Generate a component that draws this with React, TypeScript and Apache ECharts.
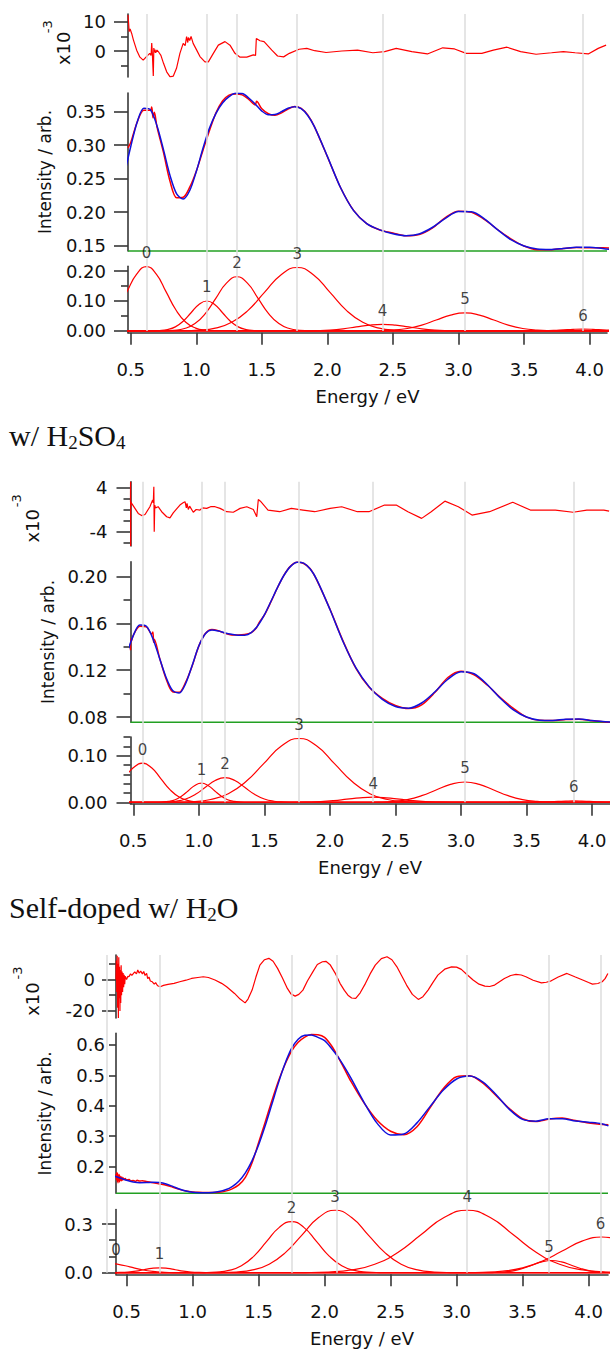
import React, { useEffect, useRef } from 'react';
import * as echarts from 'echarts';

// ---------- shared ----------
const X_TICKS = [0.5, 1.0, 1.5, 2.0, 2.5, 3.0, 3.5, 4.0];

// ---------- panel 1 (no title) ----------
const P1_BASE = 0.142;
const P1_CENTERS = [0.62, 1.08, 1.31, 1.77, 2.42, 3.05, 3.95];
const P1_LABEL_X = [0.62, 1.08, 1.31, 1.77, 2.42, 3.05, 3.95];
const P1_LABEL_Y = [0.215, 0.1, 0.181, 0.212, 0.022, 0.06, 0.006];
const P1_FIT = [[0.45,0.255],[0.5,0.298],[0.55,0.335],[0.6,0.355],[0.65,0.353],[0.7,0.329],[0.75,0.293],[0.8,0.2545],[0.85,0.2274],[0.9,0.2196],[0.95,0.2323],[1.0,0.2606],[1.05,0.2947],[1.1,0.3251],[1.15,0.3476],[1.2,0.363],[1.25,0.3725],[1.3,0.3775],[1.35,0.3772],[1.4,0.3705],[1.45,0.3612],[1.5,0.3509],[1.55,0.3454],[1.6,0.3457],[1.65,0.35],[1.7,0.3552],[1.75,0.3575],[1.8,0.3544],[1.85,0.3444],[1.9,0.328],[2.0,0.2833],[2.1,0.2368],[2.2,0.2023],[2.3,0.183],[2.4,0.1736],[2.5,0.1679],[2.6,0.1649],[2.7,0.1674],[2.8,0.1771],[2.9,0.1908],[3.0,0.2008],[3.1,0.2005],[3.2,0.1896],[3.3,0.1735],[3.4,0.1589],[3.5,0.1495],[3.6,0.145],[3.7,0.1443],[3.8,0.1458],[3.9,0.1477],[4.0,0.1477],[4.1,0.1456],[4.15,0.1445]];
const P1_DATA = [[0.479,0.296],[0.5,0.304],[0.55,0.335],[0.6,0.352],[0.65,0.352],[0.66,0.357],[0.67,0.341],[0.68,0.349],[0.7,0.3275],[0.75,0.2888],[0.8,0.2457],[0.85,0.2215],[0.9,0.2222],[0.95,0.2373],[1.0,0.2611],[1.05,0.2917],[1.1,0.3216],[1.15,0.3482],[1.2,0.366],[1.25,0.3748],[1.3,0.3764],[1.35,0.3751],[1.4,0.3684],[1.45,0.3602],[1.46,0.3655],[1.5,0.3543],[1.55,0.3469],[1.6,0.3445],[1.65,0.3482],[1.7,0.354],[1.75,0.3577],[1.8,0.3551],[1.85,0.3452],[1.9,0.3281],[2.0,0.2828],[2.1,0.2368],[2.2,0.2026],[2.3,0.1828],[2.4,0.1734],[2.5,0.1688],[2.6,0.1647],[2.7,0.1665],[2.8,0.1761],[2.9,0.1919],[3.0,0.2015],[3.1,0.1997],[3.2,0.1888],[3.3,0.1737],[3.4,0.1602],[3.5,0.1495],[3.6,0.1439],[3.7,0.1437],[3.8,0.1456],[3.9,0.1471],[4.0,0.1467],[4.1,0.1468],[4.15,0.1465]];
const P1_RES = [[0.479,12.3],[0.482,10.6],[0.488,6.6],[0.495,7.5],[0.507,6.0],[0.52,3.8],[0.545,0.3],[0.57,-2.1],[0.595,-3.1],[0.62,-1.9],[0.645,-0.8],[0.655,-1.5],[0.66,2.7],[0.665,-1.0],[0.672,-8.5],[0.676,1.0],[0.68,-0.5],[0.685,0.5],[0.69,-0.6],[0.7,0.3],[0.715,-0.5],[0.73,-1.5],[0.75,-4.2],[0.774,-7.1],[0.8,-8.8],[0.824,-8.6],[0.849,-5.9],[0.875,-0.8],[0.9,2.6],[0.915,1.8],[0.926,4.9],[0.935,2.9],[0.94,4.6],[0.95,3.6],[0.96,5.0],[0.976,2.6],[1.003,0.3],[1.028,-1.9],[1.066,-3.7],[1.092,-3.7],[1.13,-0.8],[1.168,2.0],[1.219,3.2],[1.257,2.0],[1.295,-0.8],[1.334,-2.1],[1.385,-2.1],[1.435,-1.3],[1.452,-1.5],[1.458,4.3],[1.486,3.5],[1.517,3.2],[1.576,0.3],[1.62,-1.7],[1.666,-2.0],[1.71,-0.8],[1.784,0.6],[1.843,0.9],[1.903,0.1],[1.99,-0.5],[2.11,0],[2.23,0.3],[2.347,-0.6],[2.437,-0.2],[2.525,0.9],[2.644,-0.2],[2.763,-1.0],[2.88,1.1],[2.97,0.7],[3.059,-0.8],[3.178,-0.8],[3.266,0.3],[3.37,1.3],[3.474,-0.2],[3.592,-1.1],[3.71,-0.6],[3.8,-0.2],[3.89,-0.6],[3.99,-1.0],[4.066,0.9],[4.126,2.0]];
const P1_C0 = [[0.395,0.0698],[0.47,0.1304],[0.545,0.1897],[0.62,0.215],[0.695,0.1897],[0.77,0.1304],[0.845,0.0698],[0.92,0.0291],[0.995,0.0094],[1.07,0.0024],[1.145,0.0005],[1.3,0],[4.2,0]];
const P1_C1 = [[0.4,0],[0.66,0.0002],[0.72,0.0011],[0.78,0.0044],[0.84,0.0135],[0.9,0.0325],[0.96,0.0607],[1.02,0.0883],[1.08,0.1],[1.14,0.0883],[1.2,0.0607],[1.26,0.0325],[1.32,0.0135],[1.38,0.0044],[1.44,0.0011],[1.5,0.0002],[4.2,0]];
const P1_C2 = [[0.4,0],[0.75,0.0004],[0.83,0.002],[0.91,0.0079],[0.99,0.0245],[1.07,0.0588],[1.15,0.1098],[1.23,0.1597],[1.31,0.181],[1.39,0.1597],[1.47,0.1098],[1.55,0.0588],[1.63,0.0245],[1.71,0.0079],[1.79,0.002],[1.87,0.0004],[4.2,0]];
const P1_C3 = [[0.4,0],[0.895,0.0005],[1.02,0.0024],[1.145,0.0093],[1.27,0.0287],[1.395,0.0688],[1.52,0.1286],[1.645,0.1871],[1.77,0.212],[1.895,0.1871],[2.02,0.1286],[2.145,0.0688],[2.27,0.0287],[2.395,0.0093],[2.52,0.0024],[2.645,0.0005],[4.2,0]];
const P1_C4 = [[0.4,0],[1.82,0.0002],[1.92,0.001],[2.02,0.003],[2.12,0.0071],[2.22,0.0133],[2.32,0.0194],[2.42,0.022],[2.52,0.0194],[2.62,0.0133],[2.72,0.0071],[2.82,0.003],[2.92,0.001],[3.02,0.0002],[4.2,0]];
const P1_C5 = [[0.4,0],[2.28,0.0001],[2.39,0.0007],[2.5,0.0026],[2.61,0.0081],[2.72,0.0195],[2.83,0.0364],[2.94,0.053],[3.05,0.06],[3.16,0.053],[3.27,0.0364],[3.38,0.0195],[3.49,0.0081],[3.6,0.0026],[3.71,0.0007],[3.82,0.0001],[4.2,0]];
const P1_C6 = [[0.4,0],[3.575,0.0003],[3.65,0.0008],[3.725,0.0019],[3.8,0.0036],[3.875,0.0053],[3.95,0.006],[4.025,0.0053],[4.1,0.0036],[4.175,0.0019],[4.25,0.0008]];

// ---------- panel 2 : w/ H2SO4 ----------
const P2_BASE = 0.0755;
const P2_CENTERS = [0.57, 1.02, 1.2, 1.765, 2.33, 3.03, 3.86];
const P2_LABEL_X = [0.57, 1.02, 1.2, 1.765, 2.33, 3.03, 3.86];
const P2_LABEL_Y = [0.084, 0.041, 0.053, 0.137, 0.011, 0.0436, 0.003];
const P2_FIT = [[0.45,0.1337],[0.5,0.1496],[0.55,0.1586],[0.6,0.1576],[0.65,0.147],[0.7,0.1305],[0.75,0.114],[0.8,0.1026],[0.85,0.1005],[0.9,0.1087],[0.95,0.1243],[1.0,0.1407],[1.05,0.1512],[1.1,0.1544],[1.15,0.1535],[1.2,0.1519],[1.25,0.1507],[1.3,0.1499],[1.35,0.15],[1.4,0.1522],[1.45,0.1581],[1.5,0.1673],[1.55,0.1788],[1.6,0.1907],[1.65,0.2012],[1.7,0.2088],[1.75,0.2124],[1.8,0.2116],[1.85,0.2065],[1.9,0.1975],[2.0,0.1721],[2.1,0.1446],[2.2,0.1218],[2.3,0.1058],[2.4,0.0951],[2.5,0.089],[2.6,0.0876],[2.7,0.092],[2.8,0.1014],[2.9,0.1123],[3.0,0.1187],[3.1,0.117],[3.2,0.1078],[3.3,0.096],[3.4,0.0861],[3.5,0.08],[3.6,0.0773],[3.7,0.0771],[3.8,0.0782],[3.9,0.0783],[4.0,0.077],[4.1,0.0759],[4.15,0.0757]];
const P2_DATA = [[0.479,0.137],[0.481,0.147],[0.485,0.1445],[0.5,0.1498],[0.55,0.1576],[0.6,0.1571],[0.64,0.151],[0.65,0.1527],[0.655,0.144],[0.66,0.1465],[0.7,0.1308],[0.75,0.1128],[0.8,0.1016],[0.85,0.1012],[0.9,0.1099],[0.95,0.1239],[1.0,0.1406],[1.05,0.1514],[1.1,0.1549],[1.15,0.1537],[1.2,0.1516],[1.25,0.1502],[1.3,0.1501],[1.35,0.1505],[1.4,0.1522],[1.44,0.1564],[1.46,0.1608],[1.5,0.1671],[1.55,0.1784],[1.6,0.1905],[1.65,0.2013],[1.7,0.209],[1.75,0.2123],[1.8,0.2113],[1.85,0.2067],[1.9,0.1971],[2.0,0.1723],[2.1,0.1451],[2.2,0.1214],[2.3,0.1054],[2.4,0.0959],[2.5,0.0898],[2.6,0.0872],[2.7,0.0904],[2.8,0.1009],[2.9,0.1138],[3.0,0.1192],[3.1,0.116],[3.2,0.1074],[3.3,0.0967],[3.4,0.0874],[3.5,0.0799],[3.6,0.0772],[3.7,0.077],[3.8,0.0778],[3.9,0.0782],[4.0,0.0769],[4.1,0.0758],[4.15,0.0754]];
const P2_RES = [[0.479,1.4],[0.4795,5.0],[0.48,-6.6],[0.4805,1.4],[0.488,1.1],[0.513,0.2],[0.538,-0.7],[0.564,-1.1],[0.59,-0.9],[0.627,0.5],[0.648,1.7],[0.653,1.2],[0.657,4.1],[0.66,-4.0],[0.664,0.8],[0.67,0.3],[0.69,0.5],[0.717,-0.4],[0.755,-1.3],[0.78,-1.5],[0.805,-0.6],[0.856,0.8],[0.88,1.2],[0.895,1.4],[0.905,0.3],[0.91,1.1],[0.92,0.0],[0.93,0.6],[0.958,-0.5],[0.98,0.0],[1.009,-0.1],[1.03,0.3],[1.06,0.2],[1.09,0.5],[1.124,0.5],[1.162,0.2],[1.213,-0.4],[1.263,-0.5],[1.315,0.2],[1.366,0.5],[1.416,0],[1.442,-1.3],[1.454,1.8],[1.47,1.5],[1.528,-0.1],[1.617,-0.4],[1.706,0.2],[1.795,-0.1],[1.884,-0.4],[2.002,0.2],[2.09,0.5],[2.21,-0.4],[2.298,-0.4],[2.417,0.8],[2.506,0.8],[2.595,-0.4],[2.7,-1.6],[2.773,-0.4],[2.877,1.5],[2.98,0.5],[3.084,-1.0],[3.218,-0.4],[3.395,1.3],[3.529,-0.1],[3.72,-0.1],[3.855,-0.5],[3.96,-0.1],[4.09,-0.1],[4.13,-0.3]];
const P2_C0 = [[0.36,0.0273],[0.43,0.0509],[0.5,0.0741],[0.57,0.084],[0.64,0.0741],[0.71,0.0509],[0.78,0.0273],[0.85,0.0114],[0.92,0.0037],[0.99,0.0009],[1.06,0.0002],[1.2,0],[4.2,0]];
const P2_C1 = [[0.4,0],[0.67,0.0001],[0.72,0.0005],[0.77,0.0018],[0.82,0.0055],[0.87,0.0133],[0.92,0.0249],[0.97,0.0362],[1.02,0.041],[1.07,0.0362],[1.12,0.0249],[1.17,0.0133],[1.22,0.0055],[1.27,0.0018],[1.32,0.0005],[1.37,0.0001],[4.2,0]];
const P2_C2 = [[0.4,0],[0.675,0.0001],[0.75,0.0006],[0.825,0.0023],[0.9,0.0072],[0.975,0.0172],[1.05,0.0321],[1.125,0.0468],[1.2,0.053],[1.275,0.0468],[1.35,0.0321],[1.425,0.0172],[1.5,0.0072],[1.575,0.0023],[1.65,0.0006],[1.725,0.0001],[4.2,0]];
const P2_C3 = [[0.4,0],[0.82,0.0003],[0.955,0.0015],[1.09,0.006],[1.225,0.0185],[1.36,0.0445],[1.495,0.0831],[1.63,0.1209],[1.765,0.137],[1.9,0.1209],[2.035,0.0831],[2.17,0.0445],[2.305,0.0185],[2.44,0.006],[2.575,0.0015],[2.71,0.0003],[4.2,0]];
const P2_C4 = [[0.4,0],[1.73,0.0001],[1.83,0.0005],[1.93,0.0015],[2.03,0.0036],[2.13,0.0067],[2.23,0.0097],[2.33,0.011],[2.43,0.0097],[2.53,0.0067],[2.63,0.0036],[2.73,0.0015],[2.83,0.0005],[2.93,0.0001],[4.2,0]];
const P2_C5 = [[0.4,0],[2.26,0.0001],[2.37,0.0005],[2.48,0.0019],[2.59,0.0059],[2.7,0.0142],[2.81,0.0264],[2.92,0.0385],[3.03,0.0436],[3.14,0.0385],[3.25,0.0264],[3.36,0.0142],[3.47,0.0059],[3.58,0.0019],[3.69,0.0005],[3.8,0.0001],[4.2,0]];
const P2_C6 = [[0.4,0],[3.56,0.0001],[3.62,0.0004],[3.68,0.001],[3.74,0.0018],[3.8,0.0026],[3.86,0.003],[3.92,0.0026],[3.98,0.0018],[4.04,0.001],[4.1,0.0004],[4.16,0.0001],[4.2,0]];

// ---------- panel 3 : Self-doped w/ H2O ----------
const P3_BASE = 0.1125;
const P3_CENTERS = [0.35, 0.75, 1.75, 2.09, 3.08, 3.7, 4.09];
const P3_LABEL_X = [0.42, 0.75, 1.75, 2.08, 3.08, 3.7, 4.09];
const P3_LABEL_Y = [0.054, 0.03, 0.315, 0.385, 0.385, 0.075, 0.22];
const P3_FIT = [[0.4,0.1703],[0.45,0.1629],[0.5,0.1553],[0.55,0.1498],[0.6,0.1473],[0.65,0.1478],[0.7,0.1488],[0.75,0.1477],[0.8,0.1429],[0.85,0.1352],[0.9,0.1269],[0.95,0.1203],[1.0,0.116],[1.05,0.1143],[1.1,0.114],[1.15,0.1151],[1.2,0.1181],[1.25,0.124],[1.3,0.1346],[1.35,0.1522],[1.4,0.1797],[1.45,0.2191],[1.5,0.2711],[1.55,0.3342],[1.6,0.4041],[1.65,0.4746],[1.7,0.5381],[1.75,0.5886],[1.8,0.619],[1.85,0.632],[1.9,0.633],[1.95,0.625],[2.0,0.6141],[2.05,0.5903],[2.1,0.5616],[2.15,0.5283],[2.2,0.491],[2.3,0.4108],[2.4,0.3415],[2.5,0.304],[2.6,0.3071],[2.7,0.3439],[2.8,0.3982],[2.9,0.4517],[3.0,0.4882],[3.1,0.4977],[3.2,0.4781],[3.3,0.4363],[3.4,0.3882],[3.5,0.3553],[3.6,0.3496],[3.7,0.3573],[3.8,0.3573],[3.9,0.3499],[4.0,0.3459],[4.1,0.341],[4.15,0.3342]];
const P3_DATA = [[0.42,0.176],[0.423,0.158],[0.426,0.181],[0.429,0.152],[0.432,0.178],[0.435,0.147],[0.438,0.172],[0.441,0.156],[0.444,0.174],[0.447,0.15],[0.45,0.169],[0.454,0.155],[0.458,0.167],[0.462,0.154],[0.466,0.165],[0.47,0.156],[0.475,0.163],[0.48,0.158],[0.49,0.161],[0.5,0.156],[0.52,0.158],[0.53,0.153],[0.55,0.1543],[0.57,0.152],[0.58,0.155],[0.6,0.1526],[0.62,0.154],[0.65,0.1517],[0.7,0.147],[0.75,0.1431],[0.8,0.1392],[0.85,0.1324],[0.9,0.1254],[0.95,0.1198],[1.0,0.1167],[1.05,0.1156],[1.1,0.1155],[1.15,0.1151],[1.2,0.1159],[1.25,0.1197],[1.3,0.1271],[1.35,0.1402],[1.4,0.1652],[1.45,0.2121],[1.5,0.2786],[1.55,0.3462],[1.6,0.4161],[1.65,0.4811],[1.7,0.5356],[1.75,0.5796],[1.8,0.6086],[1.85,0.626],[1.9,0.6345],[1.95,0.6335],[2.0,0.625],[2.05,0.599],[2.1,0.5626],[2.15,0.5213],[2.2,0.48],[2.3,0.4088],[2.4,0.3515],[2.5,0.3165],[2.6,0.3051],[2.7,0.3313],[2.8,0.3942],[2.9,0.4567],[3.0,0.4957],[3.1,0.4987],[3.2,0.4741],[3.3,0.4333],[3.4,0.3907],[3.5,0.3576],[3.6,0.3481],[3.7,0.3563],[3.8,0.3598],[3.9,0.3514],[4.0,0.3434],[4.1,0.3385],[4.15,0.338]];
const P3_RES = [[0.42,0],[0.423,12],[0.426,-8],[0.429,15],[0.432,-18],[0.435,10],[0.438,-24.5],[0.441,14],[0.444,-12],[0.447,8],[0.45,-20],[0.453,6],[0.456,-15],[0.459,9],[0.462,-10],[0.466,5],[0.47,-8],[0.474,4],[0.478,-5],[0.482,3],[0.486,-3],[0.49,2],[0.5,0],[0.51,2],[0.518,1.7],[0.53,3.5],[0.54,2.5],[0.562,4.8],[0.575,3.5],[0.585,6],[0.595,4],[0.607,5.3],[0.62,3.5],[0.63,5],[0.64,2.5],[0.652,3.8],[0.66,0.5],[0.67,1.5],[0.68,-1],[0.695,-1.5],[0.71,-3],[0.72,-2],[0.735,-4],[0.755,-4.7],[0.78,-3.8],[0.814,-3.2],[0.86,-2.5],[0.903,-1.5],[0.95,-0.5],[0.992,0.6],[1.04,1.2],[1.081,1.7],[1.12,1.2],[1.17,-0.4],[1.22,-2.5],[1.258,-4.7],[1.318,-8.9],[1.36,-12.5],[1.398,-14.9],[1.42,-12.5],[1.451,-6.8],[1.48,1.5],[1.51,9.1],[1.545,12.5],[1.578,13.4],[1.61,11.5],[1.644,7.0],[1.68,1],[1.718,-5.7],[1.745,-9.2],[1.777,-10.6],[1.805,-9.5],[1.836,-6.8],[1.87,-1],[1.911,4.8],[1.945,9.5],[1.984,11.2],[2.01,11.5],[2.044,9.1],[2.08,4],[2.117,-2.5],[2.15,-7],[2.177,-10.0],[2.205,-11.8],[2.236,-12.1],[2.27,-8.5],[2.31,-2.5],[2.345,3.5],[2.384,9.1],[2.43,13.2],[2.473,14.4],[2.51,12.5],[2.548,8.0],[2.585,2.2],[2.621,-3.6],[2.665,-9.5],[2.71,-12.7],[2.745,-11],[2.784,-6.8],[2.82,-2],[2.858,2.7],[2.91,6.5],[2.962,8.0],[3.0,7.8],[3.036,6.4],[3.08,3],[3.125,-0.4],[3.17,-3],[3.214,-4.3],[3.25,-4.5],[3.288,-3.6],[3.325,-1.5],[3.362,0.6],[3.41,2.5],[3.45,3.2],[3.49,2.8],[3.525,1.7],[3.58,-0.5],[3.643,-2.2],[3.68,-1.8],[3.717,-0.9],[3.77,1.5],[3.836,3.8],[3.9,1.5],[3.955,-0.4],[4.0,-2],[4.029,-3.0],[4.07,-2.6],[4.103,-1.5],[4.125,0.5],[4.146,3.8]];
const P3_C0 = [[0.2625,0.0516],[0.35,0.0585],[0.4375,0.0516],[0.525,0.0355],[0.6125,0.019],[0.7,0.0079],[0.7875,0.0026],[0.875,0.0006],[0.9625,0.0001],[1.1,0],[4.2,0]];
const P3_C1 = [[0.33,0.0001],[0.39,0.0003],[0.45,0.0013],[0.51,0.0041],[0.57,0.0097],[0.63,0.0182],[0.69,0.0265],[0.75,0.03],[0.81,0.0265],[0.87,0.0182],[0.93,0.0097],[0.99,0.0041],[1.05,0.0013],[1.11,0.0003],[1.17,0.0001],[4.2,0]];
const P3_C2 = [[0.3,0],[0.99,0.0001],[1.085,0.0007],[1.18,0.0035],[1.275,0.0138],[1.37,0.0426],[1.465,0.1023],[1.56,0.191],[1.655,0.278],[1.75,0.315],[1.845,0.278],[1.94,0.191],[2.035,0.1023],[2.13,0.0426],[2.225,0.0138],[2.32,0.0035],[2.415,0.0007],[2.51,0.0001],[4.2,0]];
const P3_C3 = [[0.3,0],[1.08,0.0001],[1.205,0.0008],[1.33,0.0043],[1.455,0.0169],[1.58,0.0521],[1.705,0.125],[1.83,0.2335],[1.955,0.3398],[2.08,0.385],[2.205,0.3398],[2.33,0.2335],[2.455,0.125],[2.58,0.0521],[2.705,0.0169],[2.83,0.0043],[2.955,0.0008],[3.08,0.0001],[4.2,0]];
const P3_C4 = [[0.3,0],[1.68,0.0001],[1.855,0.0008],[2.03,0.0043],[2.205,0.0169],[2.38,0.0521],[2.555,0.125],[2.73,0.2335],[2.905,0.3398],[3.08,0.385],[3.255,0.3398],[3.43,0.2335],[3.605,0.125],[3.78,0.0521],[3.955,0.0169],[4.13,0.0043],[4.305,0.0008]];
const P3_C5 = [[0.3,0],[3.195,0.0002],[3.27,0.0008],[3.345,0.0033],[3.42,0.0101],[3.495,0.0244],[3.57,0.0455],[3.645,0.0662],[3.72,0.075],[3.795,0.0662],[3.87,0.0455],[3.945,0.0244],[4.02,0.0101],[4.095,0.0033],[4.17,0.0008],[4.245,0.0002]];
const P3_C6 = [[0.3,0],[2.9,0.0001],[3.05,0.0005],[3.2,0.0024],[3.35,0.0097],[3.5,0.0298],[3.65,0.0714],[3.8,0.1334],[3.95,0.1942],[4.1,0.22],[4.25,0.1942]];

// ---------- styling / layout ----------
const FONT = "'DejaVu Sans', sans-serif";
const SERIF = "'Liberation Serif', 'Times New Roman', serif";
const RED = '#ff0000';
const BLUE = '#1010dd';
const GREEN = '#22a022';
const VGRAY = '#dcdcdc';
const AXIS = '#383838';
const TXT = '#111111';

const PANELS = [
  {
    L: 128, R: 607, ovL: 128, ovXmin: 0.479, xmin: 0.479, xmax: 4.133, ovBottom: 331,
    res: { top: 14, bottom: 77, min: -8.87, max: 12.63, labels: [0, 10], minors: [-5, 5], dec: 0, tick: 14, margin: 22 },
    fit: { top: 93, bottom: 251, min: 0.142, max: 0.3779, labels: [0.15, 0.2, 0.25, 0.3, 0.35], minors: [], dec: 2, tick: 14, margin: 22, nameGap: 74.5 },
    comp: { top: 266.3, bottom: 332.7, min: -0.006, max: 0.216, labels: [0, 0.1, 0.2], minors: [0.05, 0.15], dec: 2, tick: 14, margin: 22 },
    x10: [63.5, 48.3], sup: [47, 26.7],
    base: P1_BASE, centers: P1_CENTERS, lx: P1_LABEL_X, ly: P1_LABEL_Y,
    fitData: P1_FIT, data: P1_DATA, resData: P1_RES,
    comps: [P1_C0, P1_C1, P1_C2, P1_C3, P1_C4, P1_C5, P1_C6],
  },
  {
    L: 130.5, R: 609.5, ovL: 130.5, ovXmin: 0.479, xmin: 0.479, xmax: 4.133, ovBottom: 802.3,
    res: { top: 481.7, bottom: 546, min: -6.58, max: 5.01, labels: [-4, 4], minors: [-6, -2, 0, 2], dec: 0, tick: 14, margin: 23 },
    fit: { top: 561.7, bottom: 722.3, min: 0.0755, max: 0.2128, labels: [0.08, 0.12, 0.16, 0.2], minors: [0.1, 0.14, 0.18], dec: 2, tick: 14, margin: 23, nameGap: 73 },
    comp: { top: 737.1, bottom: 803.7, min: -0.003, max: 0.14, labels: [0, 0.1], minors: [0.02, 0.04, 0.06, 0.08, 0.12, 0.14], dec: 2, tick: 14, margin: 23 },
    x10: [32, 525.8], sup: [16.6, 500.8],
    base: P2_BASE, centers: P2_CENTERS, lx: P2_LABEL_X, ly: P2_LABEL_Y,
    fitData: P2_FIT, data: P2_DATA, resData: P2_RES,
    comps: [P2_C0, P2_C1, P2_C2, P2_C3, P2_C4, P2_C5, P2_C6],
  },
  {
    L: 116, R: 608, ovL: 100, ovXmin: 0.2988, xmin: 0.42, xmax: 4.147, ovBottom: 1272.7,
    res: { top: 955, bottom: 1018, min: -24.5, max: 15.5, labels: [-20, 0], minors: [-10, 10], dec: 0, tick: 14, margin: 21 },
    fit: { top: 1033.4, bottom: 1193.3, min: 0.1125, max: 0.638, labels: [0.2, 0.3, 0.4, 0.5, 0.6], minors: [], dec: 1, tick: 7, margin: 11, nameGap: 62.5 },
    comp: { top: 1209.6, bottom: 1274.3, min: -0.01, max: 0.389, labels: [0, 0.3], minors: [0.1, 0.2], dec: 1, tick: 14, margin: 23 },
    x10: [32, 999], sup: [17.5, 973],
    base: P3_BASE, centers: P3_CENTERS, lx: P3_LABEL_X, ly: P3_LABEL_Y,
    fitData: P3_FIT, data: P3_DATA, resData: P3_RES,
    comps: [P3_C0, P3_C1, P3_C2, P3_C3, P3_C4, P3_C5, P3_C6],
  },
];

function buildOption() {
  const grid: any[] = [];
  const xAxis: any[] = [];
  const yAxis: any[] = [];
  const series: any[] = [];
  const elements: any[] = [];

  const lineSeries = (xi: number, yi: number, data: any, color: string, width: number, smooth: any, extra: any = {}) => ({
    type: 'line', xAxisIndex: xi, yAxisIndex: yi, data, showSymbol: false, symbol: 'none',
    smooth, lineStyle: { color, width }, itemStyle: { color }, silent: true, animation: false,
    emphasis: { disabled: true }, ...extra,
  });

  const addSub = (p: any, s: any, showX: boolean, name?: string) => {
    const gi = grid.length;
    grid.push({ left: p.L, top: s.top, width: p.R - p.L, height: s.bottom - s.top, containLabel: false, outerBoundsMode: 'none' });
    const xi = xAxis.length;
    if (showX) {
      xAxis.push({
        type: 'value', gridIndex: gi, min: p.xmin, max: p.xmax, position: 'bottom',
        axisLine: { show: true, onZero: false, lineStyle: { color: AXIS, width: 1.6 } },
        axisTick: { show: true, inside: false, length: 12, customValues: X_TICKS, lineStyle: { color: AXIS, width: 1.6 } },
        axisLabel: { show: true, customValues: X_TICKS, margin: 28, fontSize: 18, fontFamily: FONT, color: TXT, formatter: (v: number) => Number(v).toFixed(1) },
        splitLine: { show: false },
        name: 'Energy / eV', nameLocation: 'middle', nameGap: 55,
        nameTextStyle: { fontSize: 18, fontFamily: FONT, color: TXT },
      });
    } else {
      xAxis.push({ type: 'value', gridIndex: gi, min: p.xmin, max: p.xmax, show: false });
    }
    const yi = yAxis.length;
    const ya: any = {
      type: 'value', gridIndex: gi, min: s.min, max: s.max, position: 'left',
      axisLine: { show: true, onZero: false, lineStyle: { color: AXIS, width: 1.6 } },
      axisTick: { show: true, inside: false, length: s.tick, customValues: s.labels, lineStyle: { color: AXIS, width: 1.6 } },
      axisLabel: { show: true, customValues: s.labels, margin: s.margin, fontSize: 18, fontFamily: FONT, color: TXT, formatter: (v: number) => Number(v).toFixed(s.dec) },
      splitLine: { show: false },
    };
    if (name) {
      ya.name = name; ya.nameLocation = 'middle'; ya.nameGap = s.nameGap; ya.nameRotate = 90;
      ya.nameTextStyle = { fontSize: 17, fontFamily: FONT, color: TXT };
    }
    yAxis.push(ya);
    if (s.minors.length) {
      yAxis.push({
        type: 'value', gridIndex: gi, min: s.min, max: s.max, position: 'left', offset: 0,
        axisLine: { show: false },
        axisTick: { show: true, inside: false, length: 7, customValues: s.minors, lineStyle: { color: AXIS, width: 1.6 } },
        axisLabel: { show: false }, splitLine: { show: false },
      });
    }
    return { xi, yi };
  };

  PANELS.forEach((p) => {
    // overlay grid for the vertical peak lines
    const gi = grid.length;
    grid.push({ left: p.ovL, top: p.res.top, width: p.R - p.ovL, height: p.ovBottom - p.res.top, containLabel: false, outerBoundsMode: 'none' });
    const oxi = xAxis.length;
    xAxis.push({ type: 'value', gridIndex: gi, min: p.ovXmin, max: p.xmax, show: false });
    const oyi = yAxis.length;
    yAxis.push({ type: 'value', gridIndex: gi, min: 0, max: 1, show: false });
    series.push({
      type: 'line', xAxisIndex: oxi, yAxisIndex: oyi, data: [], z: 0, silent: true, animation: false,
      markLine: {
        silent: true, symbol: ['none', 'none'], label: { show: false }, animation: false,
        lineStyle: { color: VGRAY, width: 1.5, type: 'solid' },
        emphasis: { disabled: true },
        data: p.centers.map((c: number) => ({ xAxis: c })),
      },
    });

    // residual
    const r = addSub(p, p.res, false);
    series.push(lineSeries(r.xi, r.yi, p.resData, RED, 1.2, false));

    // fit
    const f = addSub(p, p.fit, false, 'Intensity / arb.');
    series.push(lineSeries(f.xi, f.yi, [[p.xmin, p.base], [p.xmax, p.base]], GREEN, 1.6, false, { clip: false }));
    series.push(lineSeries(f.xi, f.yi, p.data, RED, 1.5, 0.3));
    series.push(lineSeries(f.xi, f.yi, p.fitData, BLUE, 1.5, 0.3));

    // components
    const c = addSub(p, p.comp, true);
    p.comps.forEach((cd: any) => {
      series.push(lineSeries(c.xi, c.yi, cd, RED, 1.2, 0.5));
    });
    series.push({
      type: 'scatter', xAxisIndex: c.xi, yAxisIndex: c.yi, silent: true, animation: false, z: 5, clip: false,
      data: p.lx.map((x: number, i: number) => [x, p.ly[i]]),
      symbolSize: 2, itemStyle: { color: 'rgba(0,0,0,0)' },
      label: { show: true, position: 'top', distance: 5, formatter: (q: any) => String(q.dataIndex), fontSize: 15, fontFamily: FONT, color: TXT },
      emphasis: { disabled: true },
    });

    // x10^-3 label
    elements.push({ type: 'text', x: p.x10[0], y: p.x10[1], rotation: Math.PI / 2, silent: true,
      style: { text: 'x10', fontSize: 18, fontFamily: FONT, fill: TXT, align: 'center', verticalAlign: 'middle', textAlign: 'center', textVerticalAlign: 'middle' } });
    elements.push({ type: 'text', x: p.sup[0], y: p.sup[1], rotation: Math.PI / 2, silent: true,
      style: { text: '-3', fontSize: 13, fontFamily: FONT, fill: TXT, align: 'center', verticalAlign: 'middle', textAlign: 'center', textVerticalAlign: 'middle' } });
  });

  const rich = {
    a: { fontSize: 30, fontFamily: SERIF, lineHeight: 33, fill: TXT, color: TXT },
    s: { fontSize: 19, fontFamily: SERIF, verticalAlign: 'bottom', fill: TXT, color: TXT },
  };
  elements.push({ type: 'text', left: 9, top: 420, silent: true, style: { text: '{a|w/ H}{s|2}{a|SO}{s|4}', rich, fill: TXT } });
  elements.push({ type: 'text', left: 9, top: 892, silent: true, style: { text: '{a|Self-doped w/ H}{s|2}{a|O}', rich, fill: TXT } });

  return {
    animation: false,
    backgroundColor: '#ffffff',
    grid, xAxis, yAxis, series,
    graphic: { elements },
  };
}

export default function App() {
  const ref = useRef<HTMLDivElement>(null);
  useEffect(() => {
    const chart = echarts.init(ref.current as HTMLDivElement, null, { renderer: 'svg' });
    chart.setOption(buildOption() as any);
    return () => { chart.dispose(); };
  }, []);
  return <div ref={ref} style={{ position: 'absolute', left: 0, top: 0, width: 610, height: 1350 }} />;
}
